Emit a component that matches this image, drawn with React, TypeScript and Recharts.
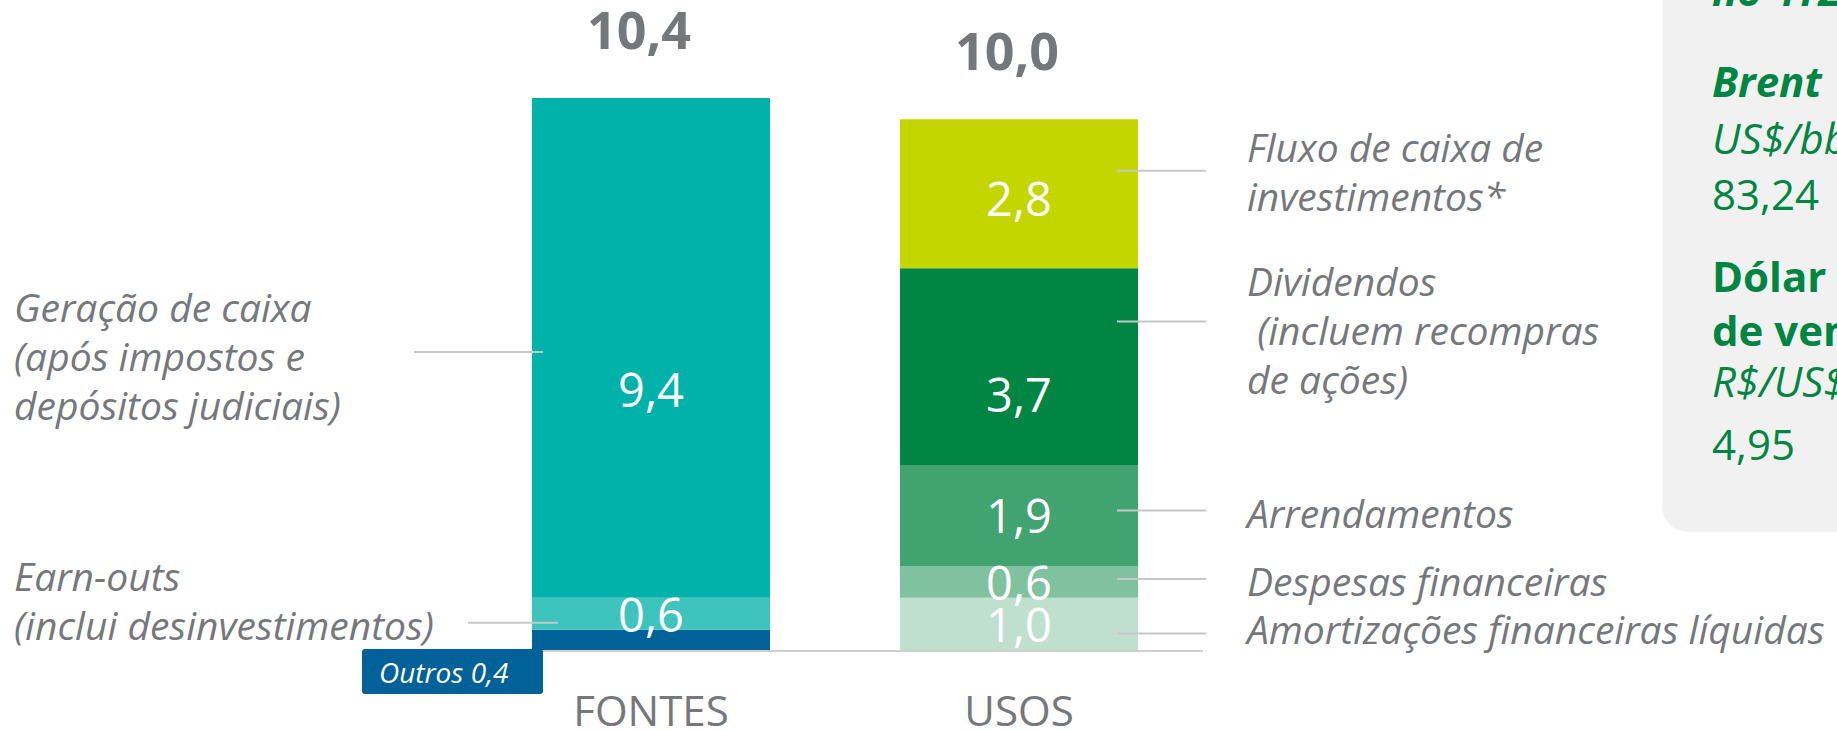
import React from 'react'
import { BarChart, Bar, XAxis, YAxis, LabelList } from 'recharts'

// fontes e usos de caixa (valores como no gráfico)
const categories = ['FONTES', 'USOS']
const outros = [0.4, 0]
const earnOuts = [0.6, 0]
const geracao = [9.4, 0]
const amortizacoes = [0, 1.0]
const despesas = [0, 0.6]
const arrendamentos = [0, 1.9]
const dividendos = [0, 3.7]
const fluxoInvest = [0, 2.8]

const GRAY = '#75787b'
const LINE = '#c8c8c8'
const FONT = '"Open Sans", sans-serif'

const fmt = (v: number) => v.toFixed(1).replace('.', ',')

type Series = {
  key: string
  values: number[]
  color: string
  side?: 'left' | 'right'
  lines?: string[]
  lineDy?: number
  textDy?: number
  valueDy?: number
  box?: boolean
  top?: boolean
}

// ordem de empilhamento: de baixo para cima
const series: Series[] = [
  { key: 'outros', values: outros, color: '#006298', box: true },
  { key: 'earnOuts', values: earnOuts, color: '#3ec4bc', side: 'left', lines: ['Earn-outs', '(inclui desinvestimentos)'], lineDy: 9, textDy: -23 },
  { key: 'geracao', values: geracao, color: '#00b2a9', side: 'left', lines: ['Geração de caixa', '(após impostos e', 'depósitos judiciais)'], lineDy: 4, textDy: 4, valueDy: 41, top: true },
  { key: 'amortizacoes', values: amortizacoes, color: '#bfe0cf', side: 'right', lines: ['Amortizações financeiras líquidas'], lineDy: 9, textDy: -5 },
  { key: 'despesas', values: despesas, color: '#80c29f', side: 'right', lines: ['Despesas financeiras'], lineDy: -3, textDy: 2 },
  { key: 'arrendamentos', values: arrendamentos, color: '#40a370', side: 'right', lines: ['Arrendamentos'], lineDy: -5, textDy: 2 },
  { key: 'dividendos', values: dividendos, color: '#008542', side: 'right', lines: ['Dividendos', ' (incluem recompras', 'de ações)'], lineDy: -45, textDy: 8, valueDy: 27 },
  { key: 'fluxo', values: fluxoInvest, color: '#c4d600', side: 'right', lines: ['Fluxo de caixa de', 'investimentos*'], lineDy: -23, textDy: 0, valueDy: 4, top: true },
]

const totals = categories.map((_, i) => series.reduce((s, d) => s + d.values[i], 0))

const LINE_H = 49

function segmentLabel(s: Series) {
  return (props: any) => {
    const vb = props.viewBox ?? props
    const { x, y, width, height } = vb
    const value = Number(props.value)
    if (!value) return null
    const idx = value === s.values[0] ? 0 : 1
    const cx = x + width / 2
    const cy = y + height / 2
    const out: React.ReactNode[] = []

    if (!s.box) {
      out.push(
        <text key="v" x={cx} y={cy + (s.valueDy ?? 0)} textAnchor="middle" dominantBaseline="central"
          fontFamily={FONT} fontSize={47} fill="#fff">
          {fmt(value)}
        </text>
      )
    }

    if (s.lines) {
      const ly = cy + (s.lineDy ?? 0)
      const tc = ly + (s.textDy ?? 0)
      const first = tc - ((s.lines.length - 1) * LINE_H) / 2
      const left = s.side === 'left'
      const r = x + width
      const x1 = left ? (s.key === 'geracao' ? x - 118 : x - 64) : r - 21
      const x2 = left ? (s.key === 'geracao' ? x + 11 : x + 26) : r + 68
      const tx = left ? x - 518 : r + 109
      out.push(<line key="l" x1={x1} x2={x2} y1={ly} y2={ly} stroke={LINE} strokeWidth={2} />)
      out.push(
        <text key="t" fontFamily={FONT} fontStyle="italic" fontSize={39} fill={GRAY} style={{ whiteSpace: 'pre' }}>
          {s.lines.map((t, i) => (
            <tspan key={i} x={tx} y={first + i * LINE_H} dominantBaseline="central">{t}</tspan>
          ))}
        </text>
      )
    }

    if (s.box) {
      const bottom = y + height
      out.push(<rect key="b" x={x - 170} y={bottom - 2} width={181} height={45} rx={3} fill="#006298" />)
      out.push(
        <text key="bt" x={x - 153} y={bottom + 32} fontFamily={FONT} fontStyle="italic" fontSize={28} fill="#fff">
          {`Outros ${fmt(value)}`}
        </text>
      )
    }

    if (s.top) {
      out.push(
        <text key="tot" x={cx - 12} y={y - 49} textAnchor="middle" fontFamily={FONT} fontWeight={700}
          fontSize={52} fill={GRAY}>
          {fmt(totals[idx])}
        </text>
      )
    }
    return <g>{out}</g>
  }
}

const CategoryTick = (props: any) => {
  const { x, y, payload } = props
  return (
    <text x={x} y={y + 75} textAnchor="middle" fontFamily={FONT} fontSize={42} fill={GRAY}>
      {payload.value}
    </text>
  )
}

export default function App() {
  const data = categories.map((name, i) => {
    const row: Record<string, any> = { name }
    series.forEach((s) => { row[s.key] = s.values[i] })
    return row
  })

  return (
    <div style={{ position: 'absolute', left: 0, top: 0, width: 1837, height: 730, overflow: 'hidden', background: '#fff' }}>
      <BarChart width={1837} height={730} data={data} margin={{ top: 13, right: 634, bottom: 0, left: 467 }}>
        <XAxis dataKey="name" axisLine={{ stroke: '#cfcfcf', strokeWidth: 2 }} tickLine={false} tickSize={0}
          tickMargin={0} height={79} interval={0} tick={<CategoryTick />} />
        <YAxis hide domain={[0, 12]} />
        {series.map((s) => (
          <Bar key={s.key} dataKey={s.key} stackId="a" fill={s.color} barSize={238} isAnimationActive={false}>
            <LabelList dataKey={s.key} content={segmentLabel(s)} />
          </Bar>
        ))}
      </BarChart>

      {/* quadro de premissas à direita */}
      <svg width={1837} height={730} style={{ position: 'absolute', left: 0, top: 0 }}>
        <rect x={1662} y={-40} width={260} height={572} rx={26} fill="#f1f1f1" />
        <g fontFamily={FONT} fill="#008542" fontSize={42}>
          <text x={1712} y={6} fontWeight={700} fontStyle="italic">no 4T23</text>
          <text x={1712} y={97} fontWeight={700} fontStyle="italic">Brent</text>
          <text x={1712} y={154} fontStyle="italic">US$/bbl</text>
          <text x={1712} y={210}>83,24</text>
          <text x={1712} y={292} fontWeight={700}>Dólar médio</text>
          <text x={1712} y={346} fontWeight={700}>de venda</text>
          <text x={1712} y={397} fontStyle="italic">R$/US$</text>
          <text x={1712} y={460}>4,95</text>
        </g>
      </svg>
    </div>
  )
}
